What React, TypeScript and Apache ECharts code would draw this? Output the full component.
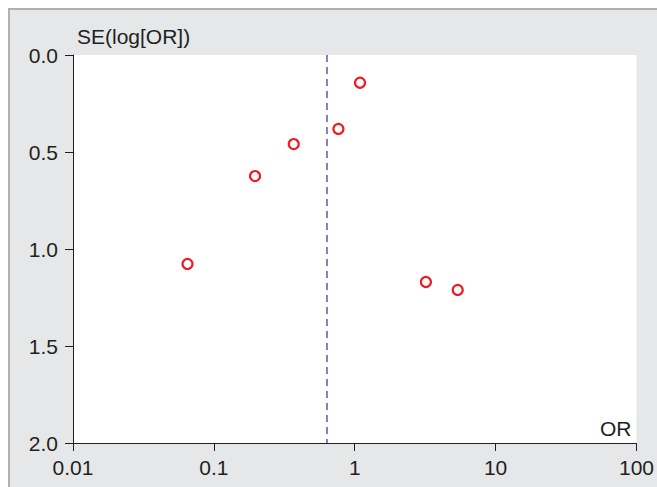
import React, { useEffect, useRef } from "react";
import * as echarts from "echarts";

const orValues = [0.065, 0.196, 0.369, 0.766, 1.09, 3.2, 5.38];
const seValues = [1.077, 0.624, 0.459, 0.381, 0.143, 1.17, 1.211];
const pooledOR = 0.628;

export default function App() {
  const ref = useRef<HTMLDivElement>(null);
  useEffect(() => {
    if (!ref.current) return;
    document.documentElement.style.overflow = "hidden";
    document.body.style.overflow = "hidden";
    const chart = echarts.init(ref.current, null, { renderer: "svg" });
    const textColor = "#231f20";
    const fs = 21;
    chart.setOption({
      animation: false,
      backgroundColor: "transparent",
      textStyle: { fontFamily: "Liberation Sans, Arial, sans-serif" },
      grid: { left: 73, top: 55, width: 567, height: 388, backgroundColor: "#ffffff", show: true, borderWidth: 0 },
      xAxis: {
        type: "log",
        min: 0.01,
        max: 100,
        logBase: 10,
        position: "bottom",
        name: "OR",
        nameLocation: "end",
        nameGap: -5,
        nameTextStyle: { color: textColor, fontSize: fs, align: "right", verticalAlign: "bottom", padding: [0, 0, 4, 0] },
        axisLine: { show: true, onZero: false, lineStyle: { color: textColor, width: 1 } },
        axisTick: { show: true, length: 8, lineStyle: { color: textColor } },
        axisLabel: { color: textColor, fontSize: fs, margin: 14, formatter: (v: number) => String(v) },
        splitLine: { show: false },
        minorTick: { show: false },
      },
      yAxis: {
        type: "value",
        inverse: true,
        min: 0,
        max: 2,
        interval: 0.5,
        position: "left",
        name: "SE(log[OR])",
        nameLocation: "start",
        nameGap: 8,
        nameTextStyle: { color: textColor, fontSize: fs, align: "left", verticalAlign: "bottom", padding: [0, 0, 0, 4] },
        axisLine: { show: true, onZero: false, lineStyle: { color: textColor, width: 1 } },
        axisTick: { show: true, length: 8, lineStyle: { color: textColor } },
        axisLabel: { color: textColor, fontSize: fs, margin: 15, formatter: (v: number) => v.toFixed(1) },
        splitLine: { show: false },
      },
      series: [
        {
          type: "scatter",
          data: orValues.map((x, i) => [x, seValues[i]]),
          symbol: "circle",
          symbolSize: 10,
          itemStyle: { color: "#ffffff", borderColor: "#ee1c24", borderWidth: 2.2, opacity: 1 },
          emphasis: { disabled: true },
          markLine: {
            silent: true,
            symbol: "none",
            label: { show: false },
            lineStyle: { color: "#5a5aa8", width: 1.5, type: [7, 5] },
            data: [{ xAxis: pooledOR }],
          },
        },
      ],
    });
    return () => chart.dispose();
  }, []);
  return (
    <div style={{ position: "fixed", left: 0, top: 0, width: 657, height: 487, overflow: "hidden", background: "#ffffff" }}>
      <div
        style={{
          position: "absolute",
          left: 8,
          top: 8,
          width: 700,
          height: 520,
          background: "#e6e7e9",
          borderTop: "2px solid #aeb0b3",
          borderLeft: "2px solid #aeb0b3",
        }}
      />
      <div ref={ref} style={{ position: "absolute", left: 0, top: 0, width: 657, height: 487 }} />
    </div>
  );
}
